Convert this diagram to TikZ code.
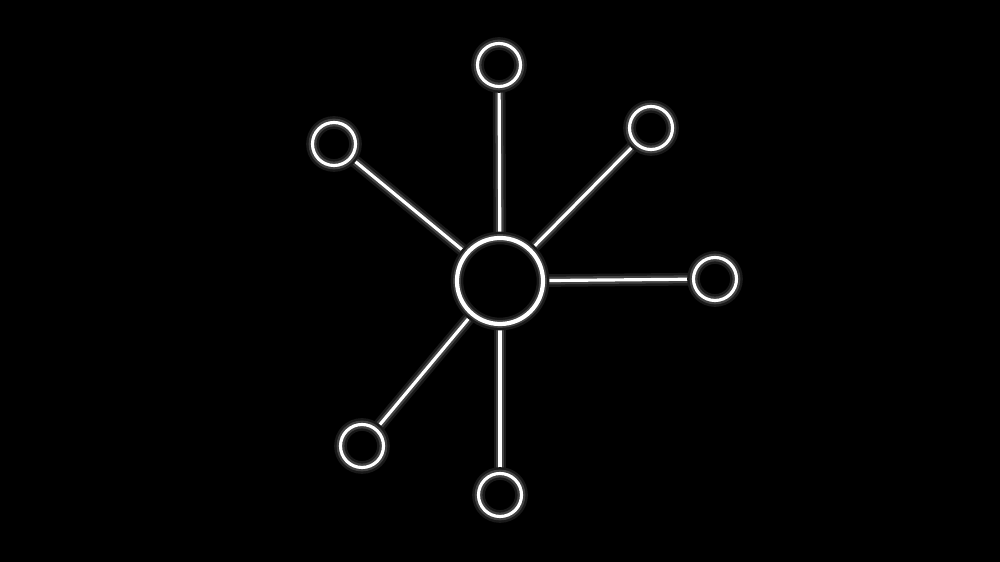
\documentclass[tikz,border=0pt]{standalone}
\usepackage{tikz}
\usetikzlibrary{backgrounds}
\tikzstyle{glow} =[preaction={draw=white!10!black, line width=3.6pt}, preaction={draw=white!26!black, line width=2.2pt}]
\tikzstyle{hub} =[circle, draw=white, line width=1.2pt, minimum size=0.86cm, inner sep=0pt, glow]
\tikzstyle{leaf} =[circle, draw=white, line width=0.9pt, minimum size=0.43cm, inner sep=0pt, glow]
\tikzstyle{spoke} =[draw=white, line width=0.9pt, glow]

\begin{document}
\begin{tikzpicture}[x=0.01cm, y=-0.01cm]

        % Centre
        \node[hub] (center) at (500,281) {};

        %% Outer circles
        \foreach \name/\x/\y in {top/499/65, upleft/334/144, upright/651/128, right/715/279, downleft/362/446, bottom/500/495} {
                \node[leaf] (\name) at (\x,\y) {};
            }

        %% Spokes
        \begin{pgfonlayer}{background}
                \fill[black] (0,0) rectangle (1000,562);
                \foreach \name in {top,upleft,upright,right,downleft,bottom} {
                        \draw[spoke] (center) -- (\name);
                    }
        \end{pgfonlayer}

    \end{tikzpicture}
\end{document}
